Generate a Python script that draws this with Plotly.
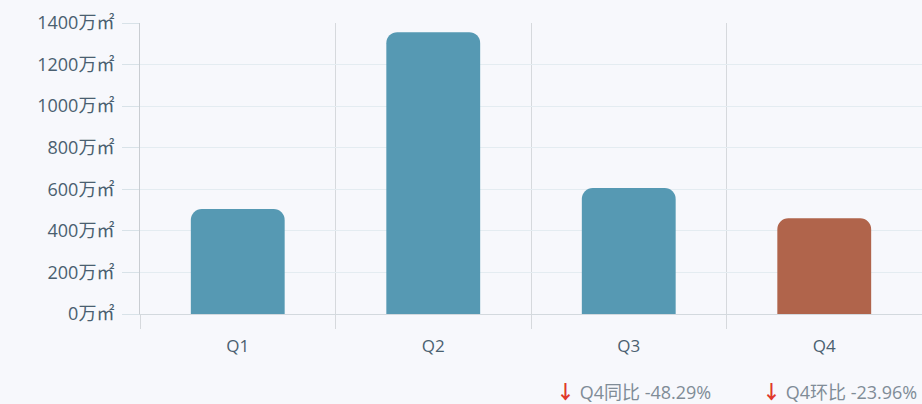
import plotly.graph_objects as go

# Quarterly area values (万㎡)
quarters = ["Q1", "Q2", "Q3", "Q4"]
areas = [505, 1356, 606, 461]
bar_colors = ["#5699b3", "#5699b3", "#5699b3", "#b0644b"]

y_ticks = [0, 200, 400, 600, 800, 1000, 1200, 1400]
y_tick_labels = [f"{v}万㎡" for v in y_ticks]
yoy_text = "Q4同比 -48.29%"
qoq_text = "Q4环比 -23.96%"

font_family = "Open Sans, Noto Sans CJK SC, sans-serif"
label_color = "#4a5f70"

x_pos = list(range(len(quarters)))

fig = go.Figure(
    go.Bar(
        x=x_pos,
        y=areas,
        marker=dict(color=bar_colors, line=dict(width=0)),
        width=0.48,
        hoverinfo="skip",
    )
)

fig.update_layout(
    width=922,
    height=404,
    margin=dict(l=140, r=0, t=23, b=90),
    paper_bgcolor="#f7f8fc",
    plot_bgcolor="#f7f8fc",
    barcornerradius=11,
    showlegend=False,
    font=dict(family=font_family, size=17, color=label_color),
)

fig.update_xaxes(
    range=[-0.5, 3.5],
    tickvals=x_pos,
    ticktext=quarters,
    showgrid=False,
    ticks="",
    showline=True,
    linecolor="#d3d9de",
    linewidth=1,
    zeroline=False,
    tickfont=dict(size=17, color=label_color),
    ticklabelstandoff=17,
    minor=dict(
        tickvals=[-0.5, 0.5, 1.5, 2.5],
        showgrid=True,
        gridcolor="#d6d9dd",
        gridwidth=1,
        ticks="outside",
        ticklen=14,
        tickcolor="#d6d9dd",
        tickwidth=1,
    ),
)

fig.update_yaxes(
    range=[0, 1400],
    tickvals=y_ticks,
    ticktext=y_tick_labels,
    showgrid=True,
    gridcolor="#e4ecf1",
    gridwidth=1,
    ticks="outside",
    ticklen=17,
    tickcolor="#d8e2e8",
    showline=True,
    linecolor="#c9cdd2",
    linewidth=1,
    zeroline=False,
    tickfont=dict(size=18, color=label_color),
    ticklabelstandoff=4,
)

arrow = "<span style='color:#e0392b;font-size:19px'><b>↓</b></span> "
for txt, xr in [(yoy_text, 713), (qoq_text, 919)]:
    fig.add_annotation(
        x=(xr - 140) / 782,
        y=-(392 - 314) / 291,
        xref="paper",
        yref="paper",
        xanchor="right",
        yanchor="middle",
        text=arrow + txt,
        showarrow=False,
        font=dict(size=18, color="#808c97", family=font_family),
    )

fig.write_html("out.html")
